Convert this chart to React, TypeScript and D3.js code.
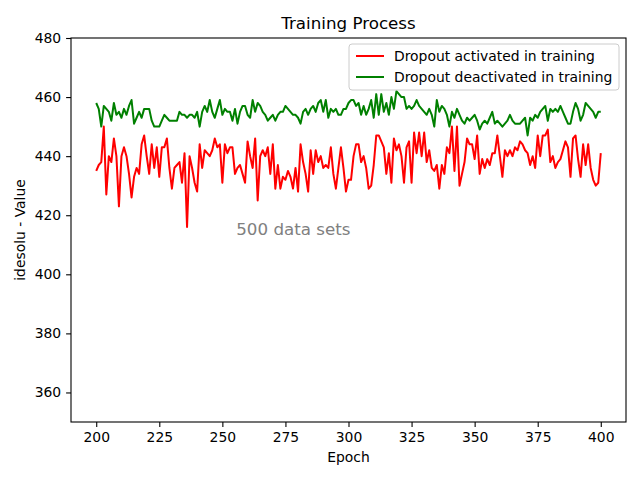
import React, { useEffect, useRef } from 'react';
import * as d3 from 'd3';

// epochs 200..400, one value per epoch
const firstEpoch = 200;

const redValues = [
  435, 437, 438, 450, 427, 440, 438, 446, 440, 423,
  440, 443, 440, 434, 426, 433, 436, 434, 444, 447,
  440, 434, 444, 436, 443, 433, 443, 443, 446, 436,
  429, 436, 437, 438, 431, 441, 416, 440, 436, 431,
  428, 444, 436, 442, 441, 440, 442, 446, 443, 444,
  431, 444, 441, 443, 443, 434, 436, 437, 434, 431,
  445, 440, 436, 446, 425, 440, 442, 440, 443, 434,
  444, 429, 437, 429, 433, 432, 435, 433, 429, 436,
  428, 444, 438, 434, 428, 442, 434, 442, 438, 440,
  436, 437, 436, 443, 434, 429, 436, 443, 436, 428,
  432, 432, 440, 444, 444, 438, 440, 436, 429, 430,
  437, 447, 447, 445, 443, 434, 441, 431, 446, 442,
  444, 440, 431, 443, 445, 431, 448, 441, 448, 440,
  448, 438, 442, 436, 435, 437, 429, 437, 434, 443,
  441, 450, 435, 450, 430, 434, 438, 446, 444, 444,
  439, 447, 434, 439, 436, 439, 437, 441, 441, 447,
  440, 433, 442, 440, 442, 440, 443, 442, 445, 444,
  442, 441, 437, 440, 436, 447, 440, 447, 447, 449,
  438, 440, 436, 438, 439, 442, 445, 443, 433, 446,
  447, 439, 433, 444, 437, 444, 436, 432, 430, 431,
  441,
];

const greenValues = [
  458, 456, 450, 457, 456, 455, 452, 458, 454, 455,
  453, 456, 454, 457, 459, 451, 453, 455, 453, 456,
  456, 456, 452, 450, 450, 450, 452, 454, 453, 452,
  452, 452, 452, 455, 454, 454, 453, 454, 454, 453,
  455, 450, 455, 457, 455, 459, 455, 453, 456, 459,
  454, 456, 455, 455, 452, 456, 451, 455, 457, 457,
  454, 453, 459, 455, 458, 457, 455, 454, 452, 453,
  454, 452, 454, 455, 455, 457, 456, 455, 454, 454,
  453, 451, 455, 456, 454, 456, 457, 455, 458, 459,
  455, 459, 453, 456, 455, 456, 454, 454, 456, 456,
  458, 459, 459, 457, 458, 454, 457, 454, 456, 459,
  453, 461, 454, 461, 455, 458, 454, 460, 456, 462,
  461, 460, 460, 456, 457, 456, 457, 459, 457, 456,
  455, 454, 456, 454, 450, 459, 455, 457, 456, 454,
  450, 455, 453, 456, 454, 452, 451, 453, 452, 453,
  454, 452, 449, 451, 452, 451, 453, 455, 451, 452,
  451, 450, 451, 452, 454, 452, 451, 451, 451, 452,
  453, 447, 453, 452, 454, 453, 455, 456, 457, 452,
  456, 455, 456, 455, 457, 455, 453, 451, 451, 455,
  458, 456, 452, 454, 458, 457, 456, 455, 453, 455,
  455,
];

const seriesNames = ['Dropout activated in training', 'Dropout deactivated in training'];
const seriesColors = ['#ff0000', '#008000'];
const xTicks = [200, 225, 250, 275, 300, 325, 350, 375, 400];
const yTicks = [360, 380, 400, 420, 440, 460, 480];

const W = 640;
const H = 480;
const margin = { top: 38, right: 14, bottom: 58, left: 71 };
const font = 'DejaVu Sans, sans-serif';

export default function App() {
  const ref = useRef<SVGSVGElement>(null);

  useEffect(() => {
    if (!ref.current) return;
    const svg = d3.select(ref.current);
    svg.selectAll('*').remove();

    const x = d3.scaleLinear().domain([190, 410]).range([margin.left, W - margin.right]);
    const y = d3.scaleLinear().domain([350, 480]).range([H - margin.bottom, margin.top]);

    svg.append('rect').attr('width', W).attr('height', H).attr('fill', '#fff');

    const series = [redValues, greenValues];
    const line = d3.line<number>()
      .x((_, i) => x(firstEpoch + i))
      .y(d => y(d));

    const plot = svg.append('g');
    series.forEach((vals, k) => {
      plot.append('path')
        .datum(vals)
        .attr('fill', 'none')
        .attr('stroke', seriesColors[k])
        .attr('stroke-width', 2)
        .attr('stroke-linejoin', 'round')
        .attr('d', line);
    });

    // annotation
    svg.append('text')
      .attr('x', x(255.5))
      .attr('y', y(413.3))
      .attr('font-family', font)
      .attr('font-size', 16.7)
      .attr('fill', '#808080')
      .text('500 data sets');

    // frame
    svg.append('rect')
      .attr('x', margin.left)
      .attr('y', margin.top)
      .attr('width', W - margin.left - margin.right)
      .attr('height', H - margin.top - margin.bottom)
      .attr('fill', 'none')
      .attr('stroke', '#000')
      .attr('stroke-width', 1.1);

    const xAxis = d3.axisBottom(x).tickValues(xTicks).tickSize(4.9).tickPadding(4.9).tickFormat(d3.format('d'));
    const yAxis = d3.axisLeft(y).tickValues(yTicks).tickSize(4.9).tickPadding(4.9).tickFormat(d3.format('d'));

    svg.append('g')
      .attr('transform', `translate(0,${H - margin.bottom})`)
      .call(xAxis)
      .call(g => g.select('.domain').remove())
      .call(g => g.selectAll('.tick line').attr('stroke-width', 1.1))
      .call(g => g.selectAll('.tick text').attr('font-family', font).attr('font-size', 13.9).attr('fill', '#000'));

    svg.append('g')
      .attr('transform', `translate(${margin.left},0)`)
      .call(yAxis)
      .call(g => g.select('.domain').remove())
      .call(g => g.selectAll('.tick line').attr('stroke-width', 1.1))
      .call(g => g.selectAll('.tick text').attr('font-family', font).attr('font-size', 13.9).attr('fill', '#000'));

    // title and labels
    svg.append('text')
      .attr('x', (margin.left + W - margin.right) / 2)
      .attr('y', 29)
      .attr('text-anchor', 'middle')
      .attr('font-family', font)
      .attr('font-size', 16.7)
      .text('Training Process');

    svg.append('text')
      .attr('x', (margin.left + W - margin.right) / 2)
      .attr('y', 462)
      .attr('text-anchor', 'middle')
      .attr('font-family', font)
      .attr('font-size', 13.9)
      .text('Epoch');

    svg.append('text')
      .attr('transform', `translate(25,${(margin.top + H - margin.bottom) / 2}) rotate(-90)`)
      .attr('text-anchor', 'middle')
      .attr('font-family', font)
      .attr('font-size', 13.9)
      .text('idesolu - Value');

    // legend
    const lg = svg.append('g').attr('transform', 'translate(349,44)');
    lg.append('rect')
      .attr('width', 270)
      .attr('height', 46)
      .attr('rx', 3)
      .attr('fill', '#fff')
      .attr('fill-opacity', 0.8)
      .attr('stroke', '#cccccc')
      .attr('stroke-width', 1);
    seriesNames.forEach((name, k) => {
      const cy = 12 + k * 21;
      lg.append('line')
        .attr('x1', 7).attr('x2', 35)
        .attr('y1', cy).attr('y2', cy)
        .attr('stroke', seriesColors[k])
        .attr('stroke-width', 2);
      lg.append('text')
        .attr('x', 45)
        .attr('y', cy + 5)
        .attr('font-family', font)
        .attr('font-size', 13.9)
        .text(name);
    });
  }, []);

  return (
    <div style={{ position: 'absolute', left: 0, top: 0 }}>
      <svg ref={ref} width={W} height={H} style={{ display: 'block' }} />
    </div>
  );
}
